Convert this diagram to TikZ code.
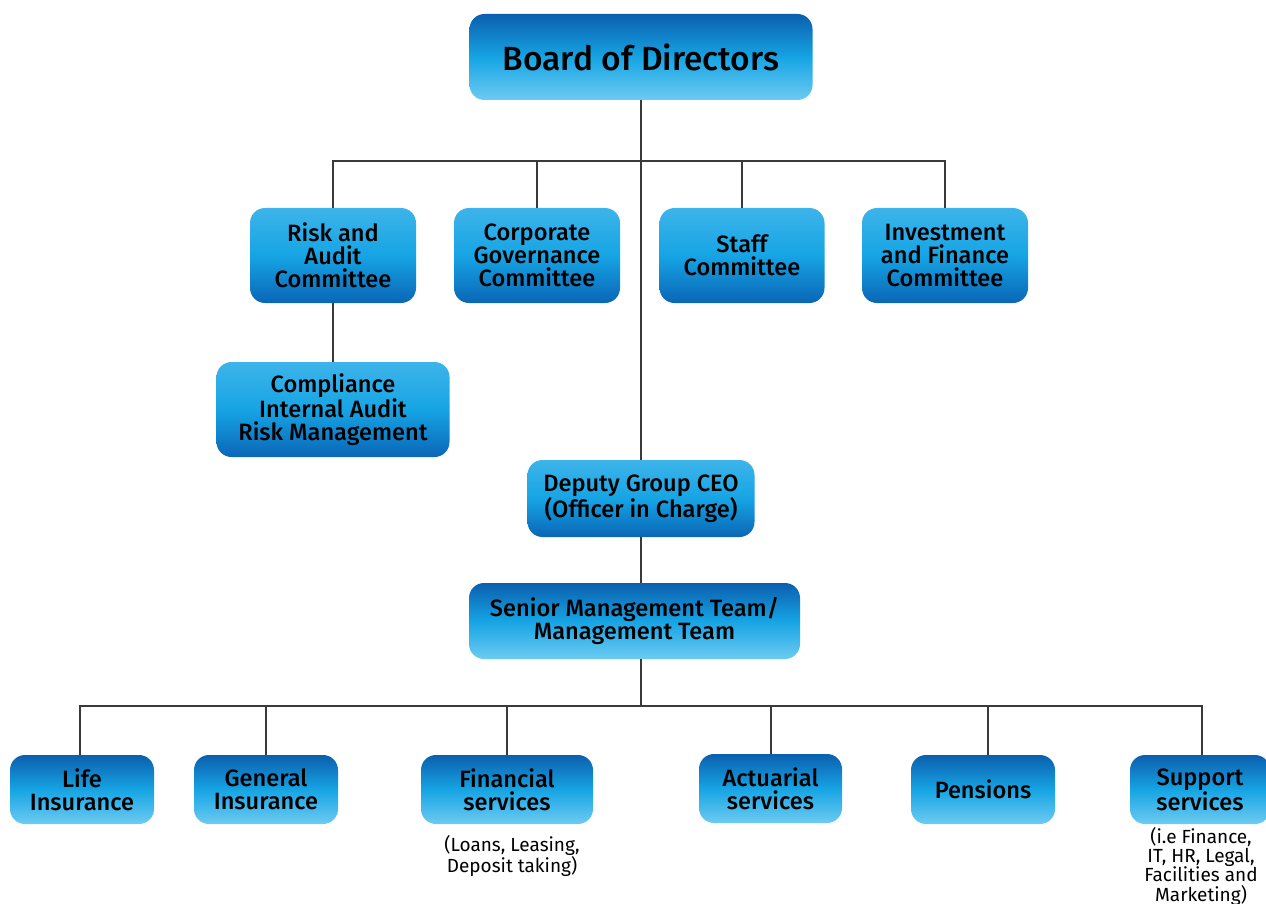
\documentclass[tikz,border=0pt]{standalone}
\usepackage{fontspec}
\setmainfont{Fira Sans}[UprightFont={* Medium},BoldFont={* SemiBold}]
\newfontfamily\capfont{Fira Sans}
\usetikzlibrary{calc}
\definecolor{bdark}{HTML}{0B5FAE}
\definecolor{bmid}{HTML}{16A4E4}
\definecolor{blight}{HTML}{6CCBF2}
\definecolor{ulight}{HTML}{3DB4EA}
\definecolor{udark}{HTML}{0A66B6}
\definecolor{linec}{HTML}{3A3A3A}
\tikzset{
  x=1pt,y=-1pt,
  orgbox/.style={rounded corners=15pt, align=center, inner sep=0pt, text=black,
     font=\fontsize{23.6}{23}\selectfont},
  boxdown/.style={orgbox, top color=bdark, bottom color=blight, middle color=bmid},
  boxup/.style={orgbox, top color=ulight, bottom color=udark, middle color=bmid},
  conn/.style={draw=linec, line width=1.2pt},
  caption/.style={align=center, inner sep=0pt, font=\capfont\fontsize{19}{19.3}\selectfont, text=black}
}
\begin{document}
\begin{tikzpicture}
\useasboundingbox (0,0) rectangle (1266,904);
% top
\node[boxdown, minimum width=343pt, minimum height=86pt, font=\fontsize{33.5}{35}\selectfont] (board) at (641,57) {Board of Directors};
\node[boxup, minimum width=166pt, minimum height=95pt] (risk) at (333,255.5) {Risk and\\Audit\\Committee};
\node[boxup, minimum width=166pt, minimum height=95pt] (corp) at (537,255.5) {Corporate\\Governance\\Committee};
\node[boxup, minimum width=165pt, minimum height=95pt] (staff) at (742,255.5) {Staff\\Committee};
\node[boxup, minimum width=166pt, minimum height=95pt] (inv) at (945,255.5) {Investment\\and Finance\\Committee};
\node[boxup, minimum width=233pt, minimum height=95pt] (comp) at (333,409.5) {Compliance\\Internal Audit\\Risk Management};
\node[boxup, minimum width=227pt, minimum height=77pt] (dep) at (641,498.5) {Deputy Group CEO\\(Officer in Charge)};
\node[boxdown, minimum width=331pt, minimum height=76pt] (smt) at (634.5,621) {Senior Management Team/\\Management Team};
% bottom row
\node[boxdown, minimum width=144pt, minimum height=69pt] (life) at (82,789.5) {Life\\Insurance};
\node[boxdown, minimum width=144pt, minimum height=69pt] (gen) at (266,789.5) {General\\Insurance};
\node[boxdown, minimum width=172pt, minimum height=69pt] (fin) at (507,789.5) {Financial\\services};
\node[boxdown, minimum width=143pt, minimum height=69pt] (act) at (770.5,788.5) {Actuarial\\services};
\node[boxdown, minimum width=144pt, minimum height=69pt] (pen) at (983,789.5) {Pensions};
\node[boxdown, minimum width=140pt, minimum height=69pt] (sup) at (1200,789.5) {Support\\services};
% captions
\node[caption, anchor=north] (fincap) at (512,835) {(Loans, Leasing,\\Deposit taking)};
\node[caption, anchor=north] (supcap) at (1201,827) {(i.e Finance,\\IT, HR, Legal,\\Facilities and\\Marketing)};
% connectors top
\coordinate (busT) at (641,161);
\draw[conn] (board.south) -- (dep.north);
\draw[conn] (risk.north) |- (busT) -| (inv.north);
\draw[conn] (corp.north) -- (corp.north |- busT);
\draw[conn] (staff.north) -- (staff.north |- busT);
\draw[conn] (risk.south) -- (comp.north);
\draw[conn] (dep.south) -- (dep.south |- smt.north);
% bottom bus
\coordinate (busB) at (641,706);
\draw[conn] (smt.south -| busB) -- (busB);
\draw[conn] ($(life.north)+(-2,0)$) |- (busB) -| ($(sup.north)+(2,0)$);
\draw[conn] (gen.north) -- (gen.north |- busB);
\draw[conn] (fin.north) -- (fin.north |- busB);
\draw[conn] ($(act.north)+(0.5,0)$) -- ($(act.north |- busB)+(0.5,0)$);
\draw[conn] ($(pen.north)+(5,0)$) -- ($(pen.north |- busB)+(5,0)$);
\end{tikzpicture}
\end{document}
